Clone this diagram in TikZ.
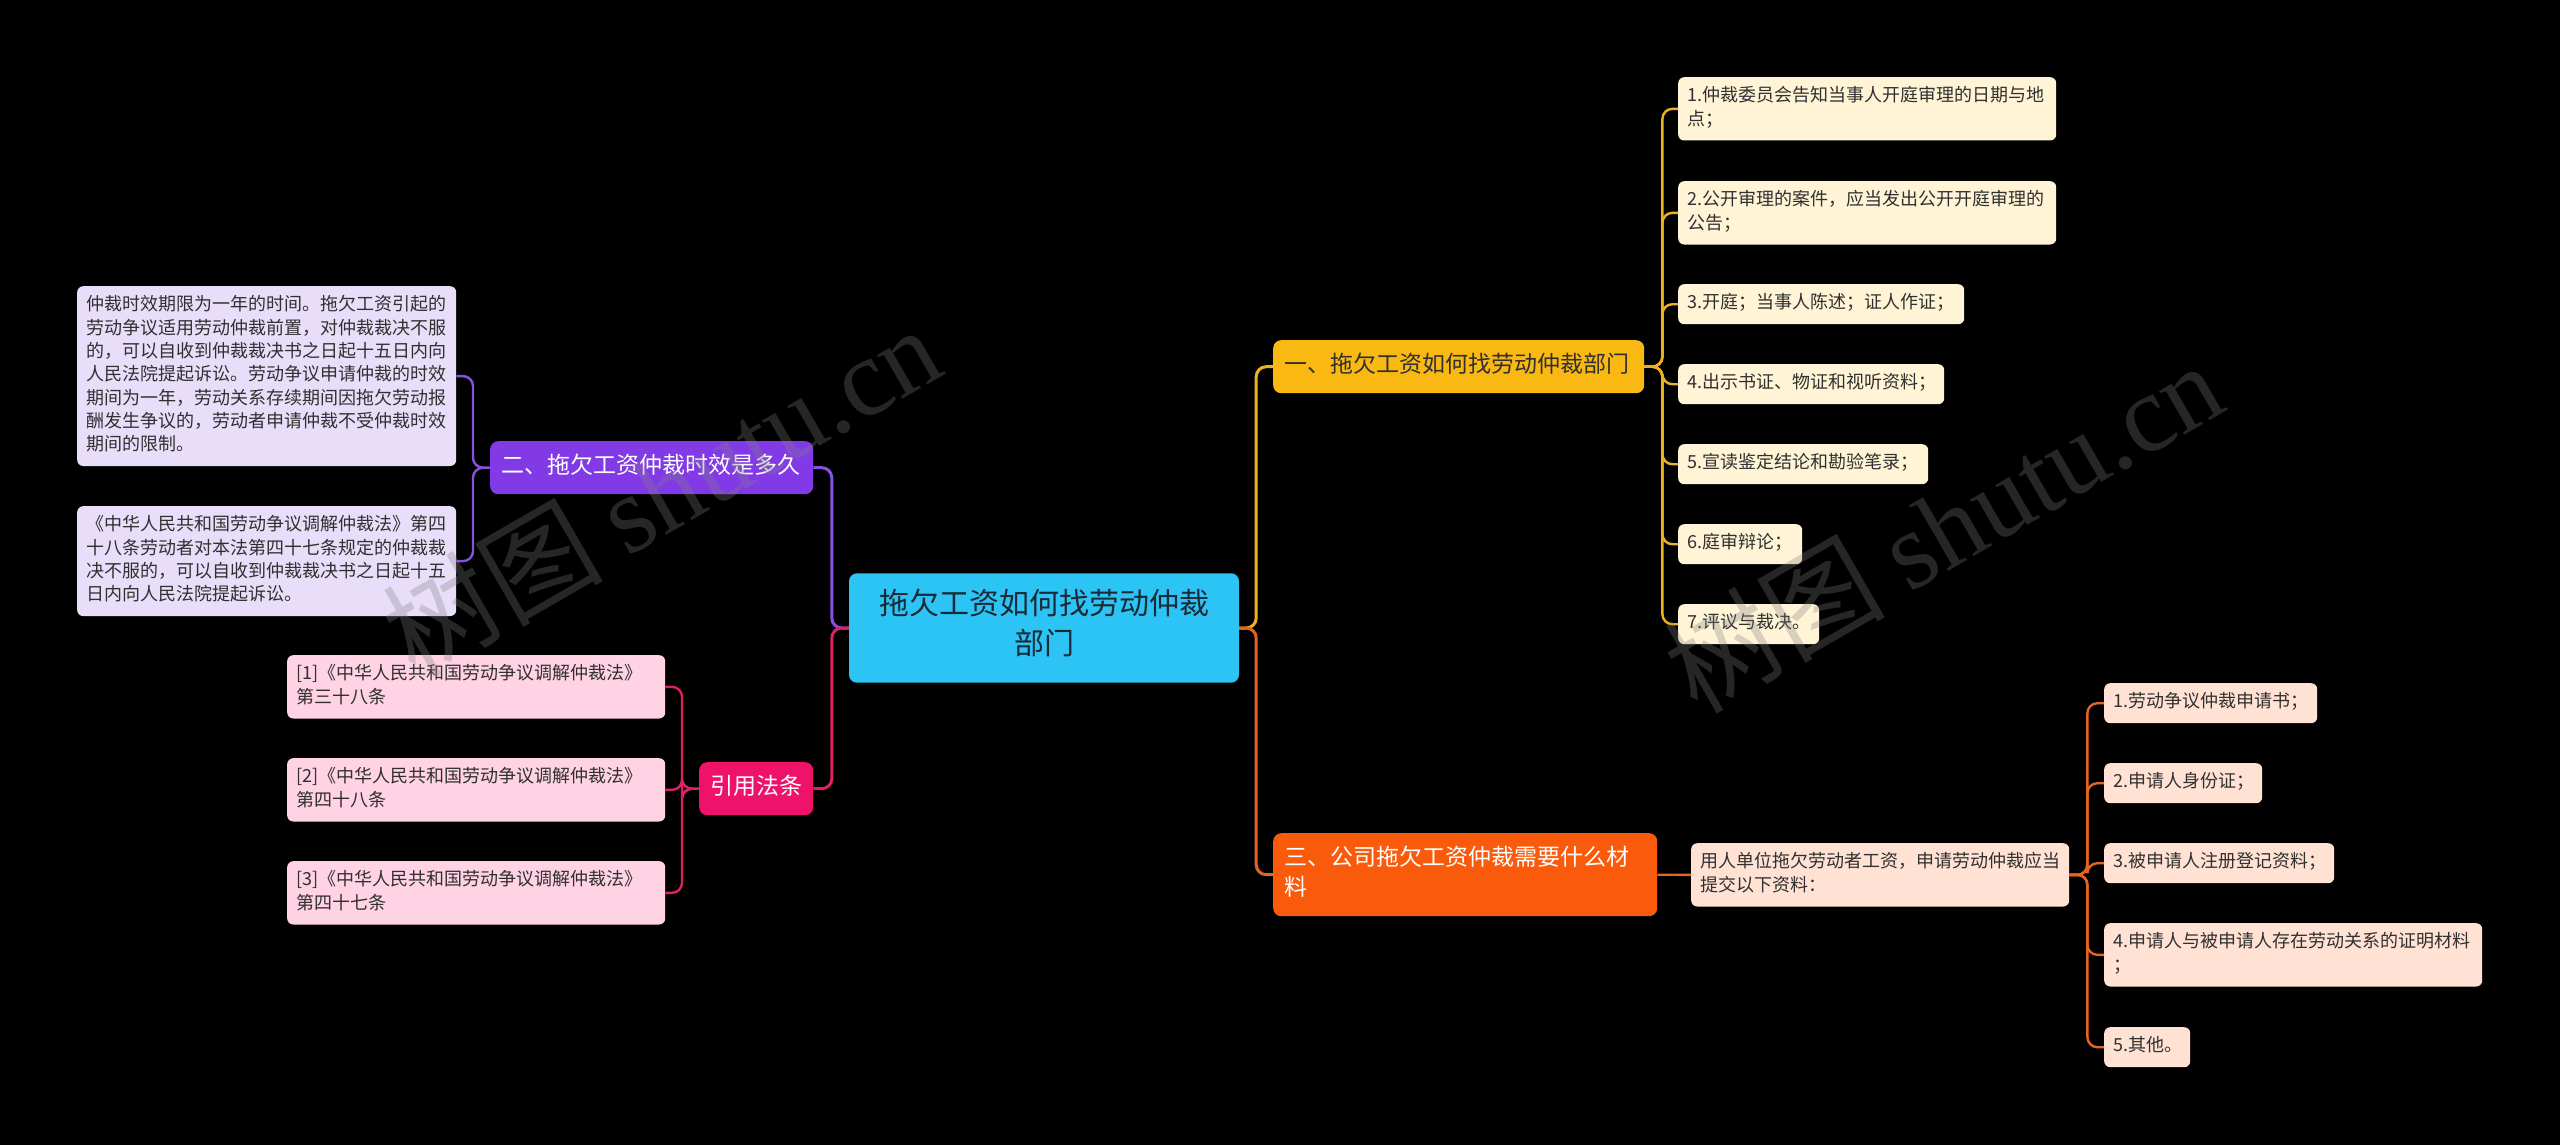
\documentclass[tikz,border=0pt]{standalone}
\usepackage{fontspec}
\setmainfont{Noto Sans CJK SC}
\newfontfamily\wmserif{Liberation Serif}
\usetikzlibrary{positioning}

\definecolor{topicblue}{RGB}{44,196,244}
\definecolor{topicink}{RGB}{27,42,56}
\definecolor{yelbranch}{RGB}{250,184,18}
\definecolor{yelline}{RGB}{238,178,30}
\definecolor{yelleaf}{RGB}{255,244,214}
\definecolor{orgbranch}{RGB}{250,90,12}
\definecolor{orgline}{RGB}{228,100,34}
\definecolor{orgleaf}{RGB}{255,226,212}
\definecolor{purbranch}{RGB}{130,58,230}
\definecolor{purline}{RGB}{136,82,220}
\definecolor{purleaf}{RGB}{232,222,250}
\definecolor{pnkbranch}{RGB}{238,18,106}
\definecolor{pnkline}{RGB}{222,32,102}
\definecolor{pnkleaf}{RGB}{255,210,228}
\definecolor{leafink}{RGB}{48,48,48}

\begin{document}
\begin{tikzpicture}[
  x=1pt, y=-1pt,
  box/.style={rounded corners=8pt, anchor=north west, align=left,
    execute at begin node=\strut, execute at end node=\strut},
  topic/.style={box, anchor=center, align=center, fill=topicblue, text=topicink,
    minimum width=390pt, inner xsep=10pt, inner ysep=16pt, font=\fontsize{30}{40}\selectfont},
  branch/.style={box, inner xsep=11pt, inner ysep=11.5pt, font=\fontsize{23}{30}\selectfont},
  ybranch/.style={branch, fill=yelbranch, text=leafink},
  obranch/.style={branch, fill=orgbranch, text=white},
  pbranch/.style={branch, fill=purbranch, text=white},
  rbranch/.style={branch, fill=pnkbranch, text=white, align=center},
  leaf/.style={box, rounded corners=6pt, text=leafink, inner xsep=9pt, inner ysep=8.35pt,
    font=\fontsize{18}{23.3}\selectfont},
  yleaf/.style={leaf, fill=yelleaf},
  oleaf/.style={leaf, fill=orgleaf},
  pleaf/.style={leaf, fill=purleaf},
  rleaf/.style={leaf, fill=pnkleaf},
  trunk/.style={line width=3pt, rounded corners=10pt},
  twig/.style={line width=2.4pt, rounded corners=10pt},
  watermark/.style={rotate=30, text=gray, text opacity=0.3, font=\fontsize{110}{120}\selectfont}
]
\useasboundingbox (0,0) rectangle (2560,1145);
\fill[black] (0,0) rectangle (2560,1145);

\node[topic] (topic) at (1044,628) {拖欠工资如何找劳动仲裁\\部门};

\node[ybranch, text width=349pt] (ybr) at (1273,340) {一、拖欠工资如何找劳动仲裁部门};
\node[obranch, text width=362pt] (obr) at (1273,833) {三、公司拖欠工资仲裁需要什么材\\料};
\node[pbranch, text width=301pt] (pbr) at (490,441) {二、拖欠工资仲裁时效是多久};
\node[rbranch, text width=92pt] (rbr) at (699,762) {引用法条};

\node[yleaf, text width=360pt] (y1) at (1678,77) {1.仲裁委员会告知当事人开庭审理的日期与地\\点；};
\node[yleaf, text width=360pt] (y2) at (1678,181) {2.公开审理的案件，应当发出公开开庭审理的\\公告；};
\node[yleaf, text width=268pt] (y3) at (1678,284) {3.开庭；当事人陈述；证人作证；};
\node[yleaf, text width=248pt] (y4) at (1678,364) {4.出示书证、物证和视听资料；};
\node[yleaf, text width=232pt] (y5) at (1678,444) {5.宣读鉴定结论和勘验笔录；};
\node[yleaf, text width=106pt] (y6) at (1678,524) {6.庭审辩论；};
\node[yleaf, text width=123pt] (y7) at (1678,604) {7.评议与裁决。};

\node[oleaf, text width=360pt] (omid) at (1691,843) {用人单位拖欠劳动者工资，申请劳动仲裁应当\\提交以下资料：};
\node[oleaf, text width=195pt] (o1) at (2104,683) {1.劳动争议仲裁申请书；};
\node[oleaf, text width=140pt] (o2) at (2104,763) {2.申请人身份证；};
\node[oleaf, text width=212pt] (o3) at (2104,843) {3.被申请人注册登记资料；};
\node[oleaf, text width=360pt] (o4) at (2104,923) {4.申请人与被申请人存在劳动关系的证明材料\\；};
\node[oleaf, text width=68pt] (o5) at (2104,1027) {5.其他。};

\node[pleaf, text width=361pt] (p1) at (77,286) {仲裁时效期限为一年的时间。拖欠工资引起的\\劳动争议适用劳动仲裁前置，对仲裁裁决不服\\的，可以自收到仲裁裁决书之日起十五日内向\\人民法院提起诉讼。劳动争议申请仲裁的时效\\期间为一年，劳动关系存续期间因拖欠劳动报\\酬发生争议的，劳动者申请仲裁不受仲裁时效\\期间的限制。};
\node[pleaf, text width=361pt] (p2) at (77,506) {《中华人民共和国劳动争议调解仲裁法》第四\\十八条劳动者对本法第四十七条规定的仲裁裁\\决不服的，可以自收到仲裁裁决书之日起十五\\日内向人民法院提起诉讼。};

\node[rleaf, text width=360pt] (r1) at (287,655) {[1]《中华人民共和国劳动争议调解仲裁法》\\第三十八条};
\node[rleaf, text width=360pt] (r2) at (287,758) {[2]《中华人民共和国劳动争议调解仲裁法》\\第四十八条};
\node[rleaf, text width=360pt] (r3) at (287,861) {[3]《中华人民共和国劳动争议调解仲裁法》\\第四十七条};

\draw[trunk, yelline] (topic.east) -- ++(17,0) |- (ybr.west);
\draw[trunk, orgline] (topic.east) -- ++(17,0) |- (obr.west);
\draw[trunk, purline] (topic.west) -- ++(-17,0) |- (pbr.east);
\draw[trunk, pnkline] (topic.west) -- ++(-17,0) |- (rbr.east);

\draw[twig, yelline] (ybr.east) -- ++(18,0) |- (y1.west);
\draw[twig, yelline] (ybr.east) -- ++(18,0) |- (y2.west);
\draw[twig, yelline] (ybr.east) -- ++(18,0) |- (y3.west);
\draw[twig, yelline] (ybr.east) -- ++(18,0) |- (y4.west);
\draw[twig, yelline] (ybr.east) -- ++(18,0) |- (y5.west);
\draw[twig, yelline] (ybr.east) -- ++(18,0) |- (y6.west);
\draw[twig, yelline] (ybr.east) -- ++(18,0) |- (y7.west);

\draw[twig, orgline] (obr.east) -- (omid.west);
\draw[twig, orgline] (omid.east) -- ++(18,0) |- (o1.west);
\draw[twig, orgline] (omid.east) -- ++(18,0) |- (o2.west);
\draw[twig, orgline] (omid.east) -- ++(18,0) |- (o3.west);
\draw[twig, orgline] (omid.east) -- ++(18,0) |- (o4.west);
\draw[twig, orgline] (omid.east) -- ++(18,0) |- (o5.west);

\draw[twig, purline] (pbr.west) -- ++(-17,0) |- (p1.east);
\draw[twig, purline] (pbr.west) -- ++(-17,0) |- (p2.east);

\draw[twig, pnkline] (rbr.west) -- ++(-17,0) |- (r1.east);
\draw[twig, pnkline] (rbr.west) -- ++(-17,0) |- (r2.east);
\draw[twig, pnkline] (rbr.west) -- ++(-17,0) |- (r3.east);

\node[watermark] (wmleft) at (661,490) {树图 {\wmserif shutu.cn}};
\node[watermark] (wmright) at (1943,526) {树图 {\wmserif shutu.cn}};

\end{tikzpicture}
\end{document}
